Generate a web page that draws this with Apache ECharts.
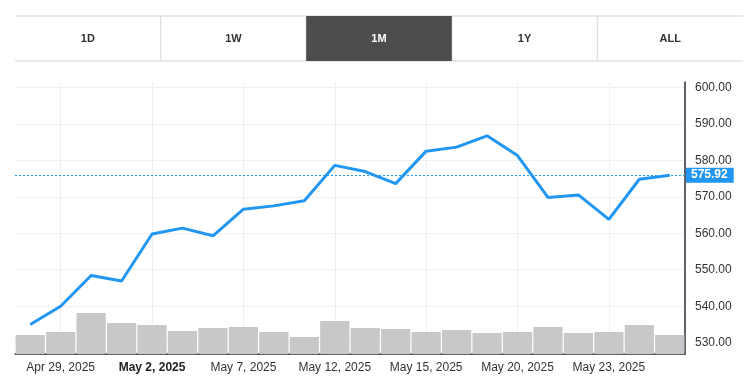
<!DOCTYPE html>
<html>
<head>
<meta charset="utf-8">
<script src="https://cdn.jsdelivr.net/npm/echarts@6/dist/echarts.min.js"></script>
<style>
html,body{margin:0;padding:0;background:#fff;}
#chart{width:755px;height:386px;}
</style>
</head>
<body>
<div id="chart"></div>
<script>
const dates = ['Apr 28, 2025','Apr 29, 2025','Apr 30, 2025','May 1, 2025','May 2, 2025','May 5, 2025','May 6, 2025','May 7, 2025','May 8, 2025','May 9, 2025','May 12, 2025','May 13, 2025','May 14, 2025','May 15, 2025','May 16, 2025','May 19, 2025','May 20, 2025','May 21, 2025','May 22, 2025','May 23, 2025','May 27, 2025','May 28, 2025'];
const prices = [535.0, 540.0, 548.4, 546.9, 559.8, 561.4, 559.3, 566.6, 567.5, 568.9, 578.6, 576.9, 573.6, 582.5, 583.6, 586.7, 581.3, 569.8, 570.5, 563.8, 574.8, 575.92];
const volumes = [47.5, 55, 102.5, 77.5, 72.5, 57.5, 65, 67.5, 55, 42.5, 82.5, 65, 62.5, 55, 60, 52.5, 55, 67.5, 52.5, 55, 72.5, 47.5];
const lastPrice = 575.92;
const priceMin = 530, priceMax = 600, priceStep = 10;
const buttons = ['1D','1W','1M','1Y','ALL'];
const activeButton = '1M';

const shownIdx = (i) => i % 3 === 1;
const boldLabels = new Set();
(function(){
  let prevMonth = null;
  dates.forEach((d, i) => {
    if (!shownIdx(i)) return;
    const m = d.split(' ')[0];
    if (prevMonth !== null && m !== prevMonth) boldLabels.add(d);
    prevMonth = m;
  });
})();

const chart = echarts.init(document.getElementById('chart'), null, {renderer:'canvas'});

const tbLeft = 15, tbTop = 16, tbH = 45, tbW = 145.6;
const borderColor = '#e2e2e2';
const graphics = [];
buttons.forEach((b, i) => {
  const active = b === activeButton;
  if (active) {
    graphics.push({
      type:'rect', left: tbLeft + i*tbW, top: tbTop,
      shape:{width: tbW, height: tbH},
      style:{fill:'#4d4d4d'}, z: 1
    });
  }
  if (i > 0) {
    graphics.push({
      type:'line', shape:{x1: tbLeft + i*tbW, y1: tbTop, x2: tbLeft + i*tbW, y2: tbTop + tbH},
      style:{stroke: borderColor, lineWidth: 1.5}, z: 0
    });
  }
  graphics.push({
    type:'text', x: tbLeft + i*tbW + tbW/2, y: tbTop + tbH/2,
    style:{text: b, fill: active ? '#fff' : '#333', font:'bold 11px "Liberation Sans", Arial, sans-serif', textAlign:'center', textVerticalAlign:'middle'},
    z: 2
  });
});
graphics.push({type:'line', shape:{x1:tbLeft, y1:tbTop, x2:tbLeft + 5*tbW, y2:tbTop}, style:{stroke:borderColor, lineWidth:1.5}, z:0});
graphics.push({type:'line', shape:{x1:tbLeft, y1:tbTop + tbH, x2:tbLeft + 5*tbW, y2:tbTop + tbH}, style:{stroke:borderColor, lineWidth:1.5}, z:0});

const gridColor = '#eef0f6';
const axisDark = '#2b2b3b';
const font = '"Liberation Sans", Arial, sans-serif';

chart.setOption({
  animation:false,
  graphic: graphics,
  grid:[
    {left:15, right:70, top:87.3, bottom:43.3},
    {left:15, right:70, top:82, bottom:32}
  ],
  xAxis:[
    {type:'category', gridIndex:0, data:dates, boundaryGap:true, show:false},
    {type:'category', gridIndex:1, data:dates, boundaryGap:true,
      axisLine:{show:true, lineStyle:{color:axisDark, width:1.5}},
      axisTick:{show:false},
      axisLabel:{interval:(i)=>shownIdx(i), color:'#333', fontSize:12, fontFamily:font, margin:8,
        formatter:(v)=> boldLabels.has(v) ? '{b|'+v+'}' : v,
        rich:{b:{fontWeight:'bold', color:'#222', fontSize:12, fontFamily:font}}},
      splitLine:{show:true, alignWithLabel:true, interval:(i)=>shownIdx(i), lineStyle:{color:gridColor, width:1}}
    }
  ],
  yAxis:[
    {type:'value', gridIndex:0, position:'right', min:priceMin, max:priceMax, interval:priceStep,
      axisLine:{show:false}, axisTick:{show:false},
      axisLabel:{formatter:(v)=>v.toFixed(2), color:'#333', fontSize:12, fontFamily:font, margin:10},
      splitLine:{show:true, lineStyle:{color:gridColor, width:1}}
    },
    {type:'value', gridIndex:1, position:'right', min:0, max:680,
      axisLine:{show:true, lineStyle:{color:axisDark, width:1.5}}, axisTick:{show:false},
      axisLabel:{show:false}, splitLine:{show:false}
    }
  ],
  series:[
    {type:'bar', xAxisIndex:1, yAxisIndex:1, data:volumes, barCategoryGap:'4%',
      itemStyle:{color:'#c8c8c8'}, z:2, silent:true},
    {type:'line', xAxisIndex:0, yAxisIndex:0, data:prices, showSymbol:false, symbol:'none',
      lineStyle:{color:'#2196f3', width:3}, z:5,
      markLine:{symbol:'none', silent:true,
        data:[{yAxis:lastPrice}],
        lineStyle:{color:'#2196f3', type:[2,2], width:1},
        label:{show:true, position:'end', distance:1, formatter:()=>lastPrice.toFixed(2),
          backgroundColor:'#2196f3', color:'#fff', fontWeight:'bold', fontSize:12, fontFamily:font,
          padding:[2,6,1,5]}
      }
    }
  ]
});
</script>
</body>
</html>
